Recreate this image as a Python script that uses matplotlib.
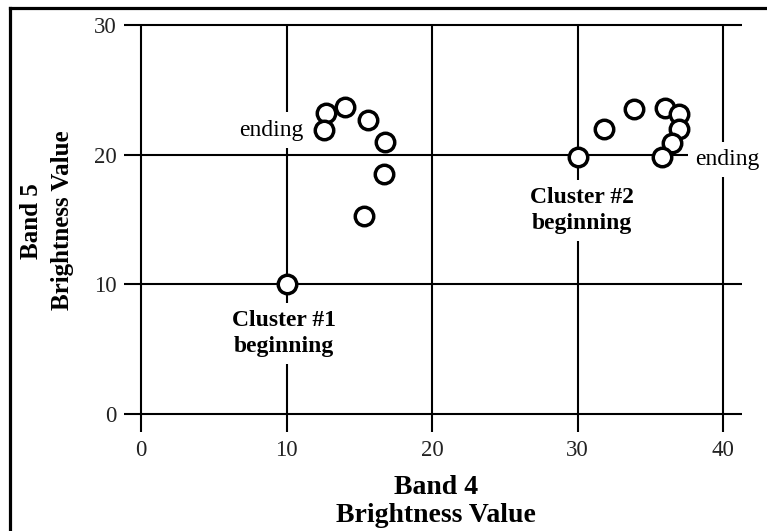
import matplotlib
matplotlib.use("Agg")
import matplotlib.pyplot as plt
from matplotlib.lines import Line2D

plt.rcParams['font.family'] = ['Liberation Serif', 'DejaVu Serif']

# Data
x_ticks = [0, 10, 20, 30, 40]
y_ticks = [0, 10, 20, 30]

# cluster 1: beginning -> ending
cluster1_x = [10.0, 15.3, 16.7, 16.8, 15.6, 14.0, 12.7, 12.6]
cluster1_y = [10.0, 15.3, 18.5, 21.0, 22.7, 23.7, 23.2, 21.9]

# cluster 2: beginning -> ending
cluster2_x = [30.0, 31.8, 33.9, 36.0, 37.0, 37.0, 36.5, 35.8]
cluster2_y = [19.8, 22.0, 23.5, 23.6, 23.1, 22.0, 20.9, 19.8]

fig = plt.figure(figsize=(7.67, 5.31), dpi=100)
ax = fig.add_axes([0.1592, 0.1836, 0.8119, 0.7742])
ax.set_xlim(-1.3, 41.5)
ax.set_ylim(-1.5, 30.2)
for sp in ax.spines.values():
    sp.set_visible(False)

# grid lines that stick out past the data range as ticks
ax.hlines(y_ticks, -1.2, 41.3, color='black', lw=1.5, zorder=1)
ax.vlines(x_ticks, -1.4, 30, color='black', lw=1.5, zorder=1)

ax.set_xticks(x_ticks)
ax.set_yticks(y_ticks)
ax.tick_params(length=0, labelsize=16.5, colors='#222222')
ax.tick_params(axis='x', pad=5)
ax.tick_params(axis='y', pad=4)

mk = dict(marker='o', ms=13.3, mew=2.5, mec='black', mfc='white',
          ls='none', zorder=4)
ax.plot(cluster1_x, cluster1_y, **mk)
ax.plot(cluster2_x, cluster2_y, **mk)

box = dict(boxstyle='square,pad=0.3', fc='white', ec='none')
ax.text(11.2, 21.9, 'ending', ha='right', va='center', fontsize=17,
        bbox=box, zorder=3)
ax.text(38.1, 19.6, 'ending', ha='left', va='center', fontsize=17,
        bbox=box, zorder=3, clip_on=False)
ax.text(9.8, 6.2, 'Cluster #1\nbeginning', ha='center', va='center',
        fontsize=17, fontweight='bold', linespacing=1.3, bbox=box, zorder=3)
ax.text(30.3, 15.7, 'Cluster #2\nbeginning', ha='center', va='center',
        fontsize=17, fontweight='bold', linespacing=1.3, bbox=box, zorder=3)

# axis titles
fig.text(0.568, 1 - 488 / 531, 'Band 4', ha='center', va='center',
         fontsize=20, fontweight='bold')
fig.text(0.568, 1 - 515 / 531, 'Brightness Value', ha='center', va='center',
         fontsize=20, fontweight='bold')
fig.text(31 / 767, 1 - 221 / 531, 'Band 5', ha='center', va='center',
         rotation=90, fontsize=18, fontweight='bold')
fig.text(62 / 767, 1 - 220 / 531, 'Brightness Value', ha='center', va='center',
         rotation=90, fontsize=18, fontweight='bold')

# frame on top and left of the picture
fig.add_artist(Line2D([10 / 767, 1], [1 - 7.5 / 531, 1 - 7.5 / 531],
                      color='black', lw=2.3))
fig.add_artist(Line2D([10 / 767, 10 / 767], [0, 1 - 7.5 / 531],
                      color='black', lw=2.3))

fig.savefig('out.png', dpi=100)
